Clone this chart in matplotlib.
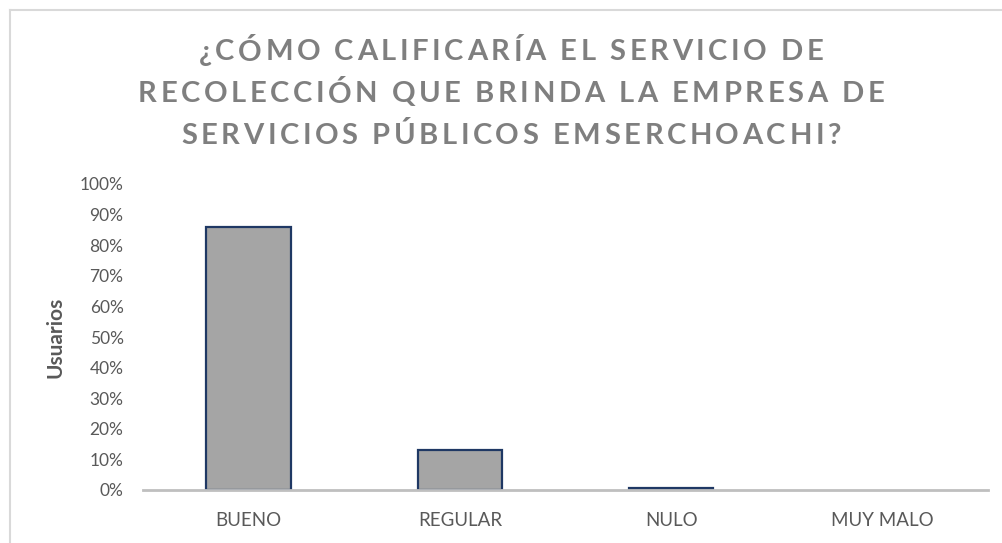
import matplotlib
matplotlib.use("Agg")
import matplotlib.pyplot as plt
from matplotlib.font_manager import FontProperties, findfont, get_font
from matplotlib.lines import Line2D
from matplotlib.ticker import PercentFormatter

categories = ["BUENO", "REGULAR", "NULO", "MUY MALO"]
values = [0.86, 0.13, 0.007, 0.0]
yticks = [0, 0.1, 0.2, 0.3, 0.4, 0.5, 0.6, 0.7, 0.8, 0.9, 1.0]
title_lines = ["¿CÓMO CALIFICARÍA EL SERVICIO DE",
               "RECOLECCIÓN QUE BRINDA LA EMPRESA DE",
               "SERVICIOS PÚBLICOS EMSERCHOACHI?"]
ylabel = "Usuarios"

W, H = 1002, 543
DPI = 100
fig = plt.figure(figsize=(W / DPI, H / DPI), dpi=DPI)
fig.patch.set_facecolor("white")

# axes box in pixels
left, right, bottom, top = 143, 988, 490, 184
ax = fig.add_axes([left / W, 1 - bottom / H, (right - left) / W, (bottom - top) / H])

TXT = "#595959"
edges = ["#1f3864" if v > 0 else "none" for v in values]
ax.bar(range(len(categories)), values, width=0.4, color="#a5a5a5",
       edgecolor=edges, linewidth=1.6, zorder=3)
ax.set_xlim(-0.5, len(categories) - 0.5)
ax.set_ylim(0, 1.0)
ax.set_yticks(yticks)
ax.yaxis.set_major_formatter(PercentFormatter(1.0, decimals=0))
ax.set_xticks(range(len(categories)))
ax.set_xticklabels(categories)
for s in ["top", "right", "left"]:
    ax.spines[s].set_visible(False)
ax.spines["bottom"].set_color("#bfbfbf")
ax.spines["bottom"].set_linewidth(2.0)
ax.spines["bottom"].set_zorder(4)
ax.tick_params(axis="both", length=0, colors=TXT)
ax.tick_params(axis="y", pad=14)
ax.tick_params(axis="x", pad=16)
for lab in ax.get_yticklabels():
    lab.set_fontfamily("Lato")
    lab.set_fontsize(12.5)
    lab.set_color(TXT)
for lab in ax.get_xticklabels():
    lab.set_fontfamily("Lato")
    lab.set_fontsize(13.5)
    lab.set_color(TXT)
ax.set_ylabel(ylabel, fontfamily="Lato", fontweight="bold", fontsize=15,
              color=TXT, labelpad=10)

# letter-spaced title
tprop = FontProperties(family="Lato", weight="bold", size=21)
font = get_font(findfont(tprop))
font.set_size(tprop.get_size_in_points(), DPI)

def advances(s):
    out = []
    for ch in s:
        g = font.load_char(ord(ch))
        out.append(g.linearHoriAdvance / 65536.0)
    return out

spacing = 3.6
centers_y = [50, 92, 133]
xc = 511
for line, yc in zip(title_lines, centers_y):
    adv = advances(line)
    total = sum(adv) + spacing * (len(line) - 1)
    x = xc - total / 2
    for ch, a in zip(line, adv):
        if ch != " ":
            fig.text((x + a / 2) / W, 1 - yc / H, ch, fontproperties=tprop,
                     color="#7f7f7f", ha="center", va="center_baseline")
        x += a + spacing

# chart border lines (partial frame visible in reference)
fig.add_artist(Line2D([10 / W, 10 / W], [0, 1 - 10 / H], transform=fig.transFigure,
                      color="#d9d9d9", linewidth=1.5))
fig.add_artist(Line2D([10 / W, 1], [1 - 10 / H, 1 - 10 / H], transform=fig.transFigure,
                      color="#d9d9d9", linewidth=1.5))

fig.savefig("out.png", dpi=DPI)
